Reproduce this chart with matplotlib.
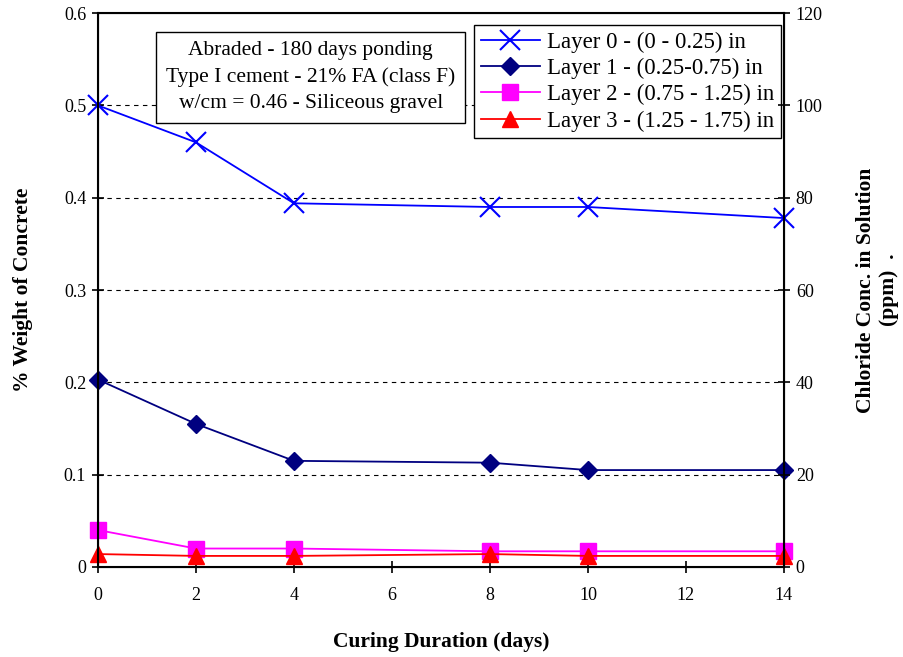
import matplotlib
matplotlib.use("Agg")
import matplotlib.pyplot as plt

plt.rcParams["font.family"] = ["Liberation Serif", "DejaVu Serif"]

days = [0, 2, 4, 8, 10, 14]
layer0 = [0.500, 0.460, 0.394, 0.390, 0.390, 0.378]
layer1 = [0.203, 0.155, 0.115, 0.113, 0.105, 0.105]
layer2 = [0.040, 0.020, 0.020, 0.017, 0.017, 0.017]
layer3 = [0.014, 0.012, 0.012, 0.014, 0.012, 0.012]
labels = ["Layer 0 - (0 - 0.25) in", "Layer 1 - (0.25-0.75) in",
          "Layer 2 - (0.75 - 1.25) in", "Layer 3 - (1.25 - 1.75) in"]

fig = plt.figure(figsize=(9.04, 6.57), dpi=100)
ax = fig.add_axes([0.1084, 0.137, 0.7588, 0.843])

ax.plot(days, layer0, color="#0000ff", marker="x", ms=15, mew=1.5, lw=1.3, label=labels[0])
ax.plot(days, layer1, color="#000080", marker="D", ms=9, lw=1.3, label=labels[1])
ax.plot(days, layer2, color="#ff00ff", marker="s", ms=11, lw=1.3, label=labels[2])
ax.plot(days, layer3, color="#ff0000", marker="^", ms=12, lw=1.3, label=labels[3])

ax.set_xlim(0, 14)
ax.set_ylim(0, 0.6)
ax.set_xticks(range(0, 15, 2))
ax.set_yticks([0, 0.1, 0.2, 0.3, 0.4, 0.5, 0.6])
ax.set_yticklabels(["0", "0.1", "0.2", "0.3", "0.4", "0.5", "0.6"])
for y in [0.1, 0.2, 0.3, 0.4, 0.5]:
    ax.axhline(y, color="black", lw=0.8, ls=(0, (4, 4)), zorder=0)
ax.tick_params(labelsize=13, direction="inout", length=9, width=1.2)
ax.tick_params(axis="x", pad=10)
ax.tick_params(axis="y", pad=4)
for s in ax.spines.values():
    s.set_linewidth(1.5)
for p in ax.lines:
    p.set_clip_on(False)

ax.set_xlabel("Curing Duration (days)", fontsize=15.5, fontweight="bold", labelpad=20)
ax.set_ylabel("% Weight of Concrete", fontsize=15.5, fontweight="bold", labelpad=22)

ax2 = ax.twinx()
ax2.set_ylim(0, 120)
ax2.set_yticks(range(0, 121, 20))
ax2.tick_params(labelsize=13, direction="inout", length=9, width=1.2, pad=4)
ax2.set_ylabel("Chloride Conc. in Solution\n(ppm)  .", fontsize=15.5, fontweight="bold",
               labelpad=24)

ax.text(0.31, 0.884,
        "Abraded - 180 days ponding\nType I cement - 21% FA (class F)\nw/cm = 0.46 - Siliceous gravel",
        transform=ax.transAxes, ha="center", va="center", fontsize=15.5, linespacing=1.5,
        bbox=dict(boxstyle="square,pad=0.45", fc="white", ec="black", lw=1))

leg = ax.legend(loc="upper right", bbox_to_anchor=(0.996, 0.979), fontsize=16.5,
                frameon=True, fancybox=False, edgecolor="black", framealpha=1,
                borderpad=0.3, labelspacing=0.22, handlelength=2.6, handletextpad=0.3,
                borderaxespad=0)
leg.get_frame().set_linewidth(1)

fig.savefig("out.png", dpi=100)
